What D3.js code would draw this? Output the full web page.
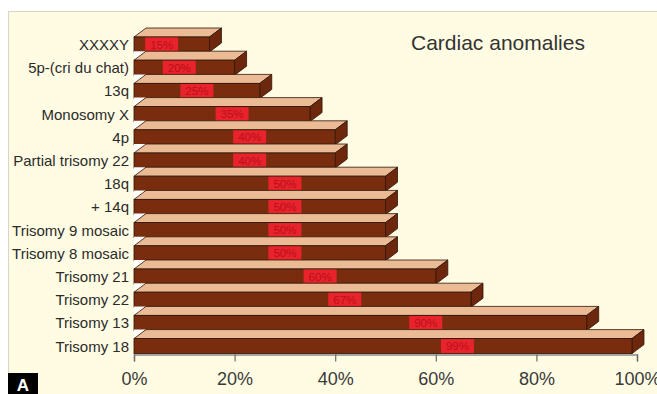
<!DOCTYPE html>
<html>
<head>
<meta charset="utf-8">
<script src="https://cdn.jsdelivr.net/npm/d3@7"></script>
<style>
  html, body { margin: 0; padding: 0; background: #ffffff; }
  svg { display: block; }
</style>
</head>
<body>
<svg id="chart" width="657" height="394"></svg>
<script>
// Frequency of cardiac anomalies by chromosomal disorder
const categories = [
  "XXXXY", "5p-(cri du chat)", "13q", "Monosomy X", "4p", "Partial trisomy 22",
  "18q", "+ 14q", "Trisomy 9 mosaic", "Trisomy 8 mosaic", "Trisomy 21",
  "Trisomy 22", "Trisomy 13", "Trisomy 18"
];
const values = [15, 20, 25, 35, 40, 40, 50, 50, 50, 50, 60, 67, 90, 99];
const tickValues = [0, 20, 40, 60, 80, 100];
const title = "Cardiac anomalies";
const panelLetter = "A";

const svg = d3.select("#chart");
const W = 657, H = 394;

// panel background
svg.append("rect").attr("x", 0).attr("y", 0).attr("width", W).attr("height", H).attr("fill", "#ffffff");
svg.append("rect").attr("x", 8.5).attr("y", 11.5).attr("width", W).attr("height", H)
  .attr("fill", "#fffce3").attr("stroke", "#d9d6c8").attr("stroke-width", 1);

const x = d3.scaleLinear().domain([0, 100]).range([134, 637]);
const y = d3.scaleBand().domain(categories)
  .range([37, 37 + 13 * 23.2 + 15])
  .paddingInner(1 - 15 / 23.2).paddingOuter(0);

const dx = 12, dy = 9;              // 3D extrusion offset
const h = y.bandwidth();
const cFront = "#7a2c0f", cTop = "#eabb95", cSide = "#6c270d", cEdge = "#2e1508";

const bars = svg.append("g");
categories.forEach((cat, i) => {
  const v = values[i];
  const y0 = y(cat), x0 = x(0), x1 = x(v);
  const g = bars.append("g");
  if (i > 0) {
    g.append("path")
      .attr("d", `M${x0},${y0} L${x0},${y0 - dy} L${x0 + dx},${y0 - dy} Z`)
      .attr("fill", "#ffffff");
  }
  // top face
  g.append("path")
    .attr("d", `M${x0},${y0} L${x0 + dx},${y0 - dy} L${x1 + dx},${y0 - dy} L${x1},${y0} Z`)
    .attr("fill", cTop).attr("stroke", cEdge).attr("stroke-width", 0.8).attr("stroke-linejoin", "round");
  // side face
  g.append("path")
    .attr("d", `M${x1},${y0} L${x1 + dx},${y0 - dy} L${x1 + dx},${y0 + h - dy} L${x1},${y0 + h} Z`)
    .attr("fill", cSide).attr("stroke", cEdge).attr("stroke-width", 0.8).attr("stroke-linejoin", "round");
  // front face
  g.append("rect")
    .attr("x", x0).attr("y", y0).attr("width", x1 - x0).attr("height", h)
    .attr("fill", cFront).attr("stroke", cEdge).attr("stroke-width", 0.8);
  // value badge
  const cx = x(0.7 * v - 5);
  g.append("rect")
    .attr("x", cx - 16.5).attr("y", y0 + 0.5).attr("width", 33).attr("height", h - 1)
    .attr("fill", "#e8232b");
  g.append("text")
    .attr("x", cx).attr("y", y0 + h / 2).attr("dy", "0.36em")
    .attr("text-anchor", "middle")
    .attr("font-family", "'Liberation Sans', Arial, sans-serif")
    .attr("font-size", 11.5).attr("fill", "#b8101d")
    .text(v + "%");
});

// category labels
svg.append("g").selectAll("text").data(categories).join("text")
  .attr("x", 129).attr("y", d => y(d) + h / 2).attr("dy", "0.36em")
  .attr("text-anchor", "end")
  .attr("font-family", "'Liberation Sans', Arial, sans-serif")
  .attr("font-size", 15).attr("fill", "#2b2b2b")
  .text(d => d);

// x axis
const axisY = 354.5;
const axis = svg.append("g").attr("transform", `translate(0,${axisY})`)
  .call(d3.axisBottom(x).tickValues(tickValues).tickFormat(d => d + "%").tickSize(7).tickPadding(11));
axis.select(".domain").attr("stroke", "#8a8a8a").attr("stroke-width", 1.5);
axis.selectAll(".tick line").attr("stroke", "#6a6a6a").attr("stroke-width", 1.2);
axis.selectAll(".tick text")
  .attr("font-family", "'Liberation Sans', Arial, sans-serif")
  .attr("font-size", 18).attr("fill", "#3a3a3a");

// title
svg.append("text")
  .attr("x", 411).attr("y", 50)
  .attr("font-family", "'Liberation Sans', Arial, sans-serif")
  .attr("font-size", 21).attr("fill", "#333333")
  .text(title);

// panel letter
svg.append("rect").attr("x", 8).attr("y", 373).attr("width", 30).attr("height", 21).attr("fill", "#000000");
svg.append("text")
  .attr("x", 23).attr("y", 391).attr("text-anchor", "middle")
  .attr("font-family", "'Liberation Sans', Arial, sans-serif")
  .attr("font-weight", "bold").attr("font-size", 17).attr("fill", "#ffffff")
  .text(panelLetter);
</script>
</body>
</html>
